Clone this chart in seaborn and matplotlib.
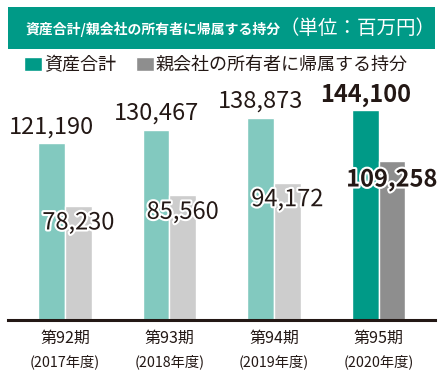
import matplotlib
matplotlib.use("Agg")
import numpy as np
import pandas as pd
import matplotlib.pyplot as plt
import matplotlib.patheffects as pe
from matplotlib.patches import Rectangle
import seaborn as sns

# data
periods = ["第92期", "第93期", "第94期", "第95期"]
fiscal_years = ["(2017年度)", "(2018年度)", "(2019年度)", "(2020年度)"]
series_names = ["資産合計", "親会社の所有者に帰属する持分"]
total_assets = [121190, 130467, 138873, 144100]
owners_equity = [78230, 85560, 94172, 109258]

df = pd.DataFrame({
    "period": periods * 2,
    "series": [series_names[0]] * 4 + [series_names[1]] * 4,
    "value": total_assets + owners_equity,
})

dark_teal = "#009a87"
dark_gray = "#8e8e8e"
light_teal = "#82c9bf"
light_gray = "#cdcdcd"
ink = "#231815"

sns.set_theme(style="white")
plt.rcParams["font.family"] = ["Noto Sans CJK JP", "DejaVu Sans"]

fig = plt.figure(figsize=(4.41, 3.74), dpi=100)
ax = fig.add_axes([8 / 441, 54 / 374, 427 / 441, 230 / 374])

sns.barplot(data=df, x="period", y="value", hue="series",
            palette=[dark_teal, dark_gray], saturation=1,
            width=0.51, gap=0, ax=ax)

# earlier periods drawn in lighter shades
for container, light in zip(ax.containers, [light_teal, light_gray]):
    for i, bar in enumerate(container):
        if i < len(periods) - 1:
            bar.set_facecolor(light)

# value labels
for k, container in enumerate(ax.containers):
    for i, bar in enumerate(container):
        last = i == len(periods) - 1
        x = bar.get_x() + bar.get_width() / 2
        h = bar.get_height()
        if k == 0:
            dy = 10.8 if last else 12
        else:
            dy = -13.7 if last else -12.2
        t = ax.annotate(f"{h:,.0f}", xy=(x, h), xytext=(0, dy),
                        textcoords="offset points", ha="center", va="center",
                        fontsize=17, color=ink,
                        fontweight="bold" if last else "normal")
        if k == 1:
            t.set_path_effects([pe.withStroke(linewidth=3, foreground="white")])

ax.set_ylim(0, 157850)
ax.set_xlim(-0.545, 3.54)
ax.set_xlabel("")
ax.set_ylabel("")
ax.set_yticks([])
for s in ["left", "top", "right"]:
    ax.spines[s].set_visible(False)
ax.spines["bottom"].set_linewidth(2.2)
ax.spines["bottom"].set_color(ink)
ax.tick_params(axis="x", length=0, pad=7, labelsize=11.5, labelcolor=ink)

for i, fy in enumerate(fiscal_years):
    ax.annotate(fy, xy=(i, 0), xytext=(0, -30), textcoords="offset points",
                ha="center", va="center", fontsize=10.3, color=ink,
                annotation_clip=False)

# legend
handles, labels = ax.get_legend_handles_labels()
ax.legend(handles, labels, loc="upper left",
          bbox_to_anchor=(24 / 441, 1 - 56 / 374), bbox_transform=fig.transFigure,
          ncol=2, frameon=False, fontsize=13, handlelength=1.0, handleheight=0.85,
          handletextpad=0.1, columnspacing=1.1, borderpad=0, borderaxespad=0,
          labelcolor=ink)

# title bar
fig.patches.append(Rectangle((8 / 441, 1 - 49 / 374), 427 / 441, 42 / 374,
                             transform=fig.transFigure, facecolor=dark_teal,
                             edgecolor="none"))
title = fig.text(26 / 441, 1 - 29 / 374, "資産合計/親会社の所有者に帰属する持分",
                 color="white", fontweight="bold", fontsize=10, va="center")
fig.canvas.draw()
bb = title.get_window_extent()
fig.text(bb.x1 / 441 - 2 / 441, 1 - 29 / 374, "（単位：百万円）",
         color="white", fontsize=14, va="center")

fig.savefig("out.png", dpi=100)
